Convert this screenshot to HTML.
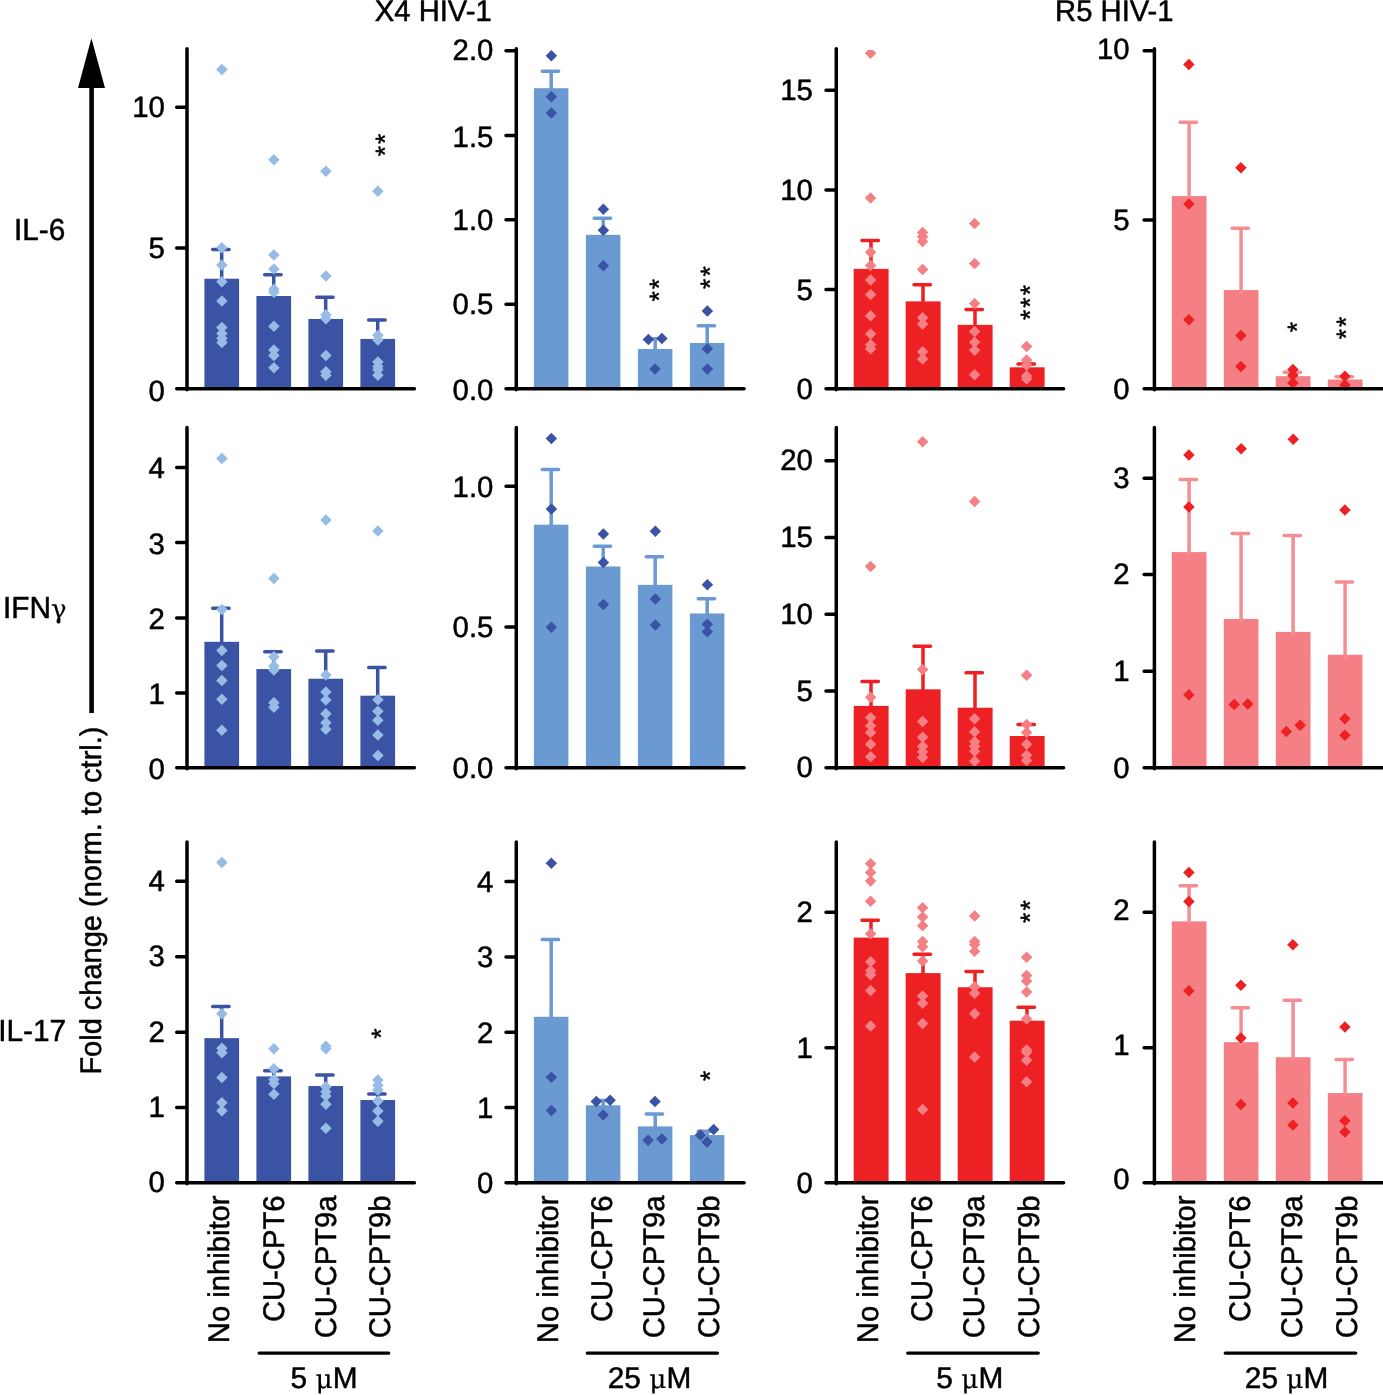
<!DOCTYPE html>
<html lang="en"><head><meta charset="utf-8"><title>Fold change of IL-6, IFN&#947; and IL-17 with TLR8 inhibitors</title>
<style>html,body{margin:0;padding:0;background:#fff}body{width:1383px;height:1395px;overflow:hidden}svg{display:block}text{font-family:"Liberation Sans", sans-serif;font-size:29.8px;fill:#000;stroke:#000;stroke-width:0.5px;stroke-linejoin:round;text-rendering:geometricPrecision}</style></head><body>
<svg width="1383" height="1395" viewBox="0 0 1383 1395" role="img" aria-label="Bar charts of fold change for IL-6, IFN-gamma and IL-17 with X4 and R5 HIV-1">
<rect width="1383" height="1395" fill="#fff"/>
<g>
<rect x="204.4" y="278.729" width="34.7" height="110.141" fill="#3a53a4"/>
<rect x="256.4" y="296.025" width="34.7" height="92.845" fill="#3a53a4"/>
<rect x="308.4" y="318.976" width="34.7" height="69.894" fill="#3a53a4"/>
<rect x="360.4" y="338.932" width="34.7" height="49.938" fill="#3a53a4"/>
<path d="M221.7 280.729V249.46M212.7 249.46H229.1" fill="none" stroke="#3a53a4" stroke-width="3.5" stroke-linecap="round"/>
<path d="M273.7 298.025V274.738M264.7 274.738H281.1" fill="none" stroke="#3a53a4" stroke-width="3.5" stroke-linecap="round"/>
<path d="M325.7 320.976V297.356M316.7 297.356H333.1" fill="none" stroke="#3a53a4" stroke-width="3.5" stroke-linecap="round"/>
<path d="M377.7 340.932V319.973M368.7 319.973H385.1" fill="none" stroke="#3a53a4" stroke-width="3.5" stroke-linecap="round"/>
<path d="M221.9 63.766l5.75 5.75l-5.75 5.75l-5.75 -5.75zM221.9 242.046l5.75 5.75l-5.75 5.75l-5.75 -5.75zM221.9 259.342l5.75 5.75l-5.75 5.75l-5.75 -5.75zM221.9 275.973l5.75 5.75l-5.75 5.75l-5.75 -5.75zM221.9 295.264l5.75 5.75l-5.75 5.75l-5.75 -5.75zM221.9 321.873l5.75 5.75l-5.75 5.75l-5.75 -5.75zM221.9 327.861l5.75 5.75l-5.75 5.75l-5.75 -5.75zM221.9 332.517l5.75 5.75l-5.75 5.75l-5.75 -5.75zM221.9 336.841l5.75 5.75l-5.75 5.75l-5.75 -5.75zM273.9 153.904l5.75 5.75l-5.75 5.75l-5.75 -5.75zM273.9 249.364l5.75 5.75l-5.75 5.75l-5.75 -5.75zM273.9 263.334l5.75 5.75l-5.75 5.75l-5.75 -5.75zM273.9 283.623l5.75 5.75l-5.75 5.75l-5.75 -5.75zM273.9 286.617l5.75 5.75l-5.75 5.75l-5.75 -5.75zM273.9 320.543l5.75 5.75l-5.75 5.75l-5.75 -5.75zM273.9 344.159l5.75 5.75l-5.75 5.75l-5.75 -5.75zM273.9 349.813l5.75 5.75l-5.75 5.75l-5.75 -5.75zM273.9 362.12l5.75 5.75l-5.75 5.75l-5.75 -5.75zM325.9 165.546l5.75 5.75l-5.75 5.75l-5.75 -5.75zM325.9 270.319l5.75 5.75l-5.75 5.75l-5.75 -5.75zM325.9 308.902l5.75 5.75l-5.75 5.75l-5.75 -5.75zM325.9 312.893l5.75 5.75l-5.75 5.75l-5.75 -5.75zM325.9 349.813l5.75 5.75l-5.75 5.75l-5.75 -5.75zM325.9 366.111l5.75 5.75l-5.75 5.75l-5.75 -5.75zM325.9 369.437l5.75 5.75l-5.75 5.75l-5.75 -5.75zM377.9 185.502l5.75 5.75l-5.75 5.75l-5.75 -5.75zM377.9 329.524l5.75 5.75l-5.75 5.75l-5.75 -5.75zM377.9 334.18l5.75 5.75l-5.75 5.75l-5.75 -5.75zM377.9 356.133l5.75 5.75l-5.75 5.75l-5.75 -5.75zM377.9 360.789l5.75 5.75l-5.75 5.75l-5.75 -5.75zM377.9 364.115l5.75 5.75l-5.75 5.75l-5.75 -5.75zM377.9 369.437l5.75 5.75l-5.75 5.75l-5.75 -5.75z" fill="#96bbe5"/>
<path d="M187 48.8V389.87M176.7 388.87H414.4M176.7 247.996H187M176.7 107.301H187" fill="none" stroke="#000" stroke-width="3.5" stroke-linecap="round"/>
<text transform="translate(164.8 401.07) scale(0.995 1)" text-anchor="end" style="font-size:29.5px">0</text>
<text transform="translate(164.8 257.996) scale(0.995 1)" text-anchor="end" style="font-size:29.5px">5</text>
<text transform="translate(164.8 117.301) scale(0.995 1)" text-anchor="end" style="font-size:29.5px">10</text>
<text transform="translate(394.142 143.952) rotate(-90) scale(1 1)" text-anchor="middle" style="font-size:26.5px;letter-spacing:2.1px;stroke-width:0.45px">**</text>
</g>
<g>
<rect x="533.9" y="88.216" width="34.5" height="300.654" fill="#6a9ad1"/>
<rect x="585.9" y="234.841" width="34.5" height="154.029" fill="#6a9ad1"/>
<rect x="637.9" y="348.949" width="34.5" height="39.921" fill="#6a9ad1"/>
<rect x="689.9" y="342.928" width="34.5" height="45.942" fill="#6a9ad1"/>
<path d="M551.2 90.216V71.355M542.2 71.355H558.6" fill="none" stroke="#6a9ad1" stroke-width="3.5" stroke-linecap="round"/>
<path d="M603.2 236.841V218.281M594.2 218.281H610.6" fill="none" stroke="#6a9ad1" stroke-width="3.5" stroke-linecap="round"/>
<path d="M655.2 350.949V338.713M646.2 338.713H662.6" fill="none" stroke="#6a9ad1" stroke-width="3.5" stroke-linecap="round"/>
<path d="M707.2 344.928V325.766M698.2 325.766H714.6" fill="none" stroke="#6a9ad1" stroke-width="3.5" stroke-linecap="round"/>
<path d="M551.35 49.949l5.75 5.75l-5.75 5.75l-5.75 -5.75zM551.35 90.896l5.75 5.75l-5.75 5.75l-5.75 -5.75zM551.35 107.154l5.75 5.75l-5.75 5.75l-5.75 -5.75zM603.35 203.499l5.75 5.75l-5.75 5.75l-5.75 -5.75zM603.35 224.575l5.75 5.75l-5.75 5.75l-5.75 -5.75zM603.35 260.102l5.75 5.75l-5.75 5.75l-5.75 -5.75zM648.346 333.866l5.75 5.75l-5.75 5.75l-5.75 -5.75zM661.894 332.662l5.75 5.75l-5.75 5.75l-5.75 -5.75zM654.97 363.371l5.75 5.75l-5.75 5.75l-5.75 -5.75zM707.35 305.263l5.75 5.75l-5.75 5.75l-5.75 -5.75zM707.35 342.898l5.75 5.75l-5.75 5.75l-5.75 -5.75zM707.35 363.371l5.75 5.75l-5.75 5.75l-5.75 -5.75z" fill="#3a53a4"/>
<path d="M516.3 48.8V389.87M506 388.87H744.1M506 304.289H516.3M506 219.686H516.3M506 135.384H516.3M506 50.781H516.3" fill="none" stroke="#000" stroke-width="3.5" stroke-linecap="round"/>
<text transform="translate(493.4 400.27) scale(0.995 1)" text-anchor="end" style="font-size:29.5px">0.0</text>
<text transform="translate(493.4 314.289) scale(0.995 1)" text-anchor="end" style="font-size:29.5px">0.5</text>
<text transform="translate(493.4 229.886) scale(0.995 1)" text-anchor="end" style="font-size:29.5px">1.0</text>
<text transform="translate(493.4 146.684) scale(0.995 1)" text-anchor="end" style="font-size:29.5px">1.5</text>
<text transform="translate(493.4 59.981) scale(0.995 1)" text-anchor="end" style="font-size:29.5px">2.0</text>
<text transform="translate(668.27 289.14) rotate(-90) scale(1 1)" text-anchor="middle" style="font-size:26.5px;letter-spacing:2.1px;stroke-width:0.45px">**</text>
<text transform="translate(719.453 276.495) rotate(-90) scale(1 1)" text-anchor="middle" style="font-size:26.5px;letter-spacing:2.1px;stroke-width:0.45px">**</text>
</g>
<g>
<rect x="853.7" y="268.863" width="34.9" height="120.007" fill="#ed2024"/>
<rect x="905.7" y="301.379" width="34.9" height="87.491" fill="#ed2024"/>
<rect x="957.7" y="324.863" width="34.9" height="64.007" fill="#ed2024"/>
<rect x="1009.7" y="367.315" width="34.9" height="21.555" fill="#ed2024"/>
<path d="M871 270.863V240.561M862 240.561H878.4" fill="none" stroke="#ed2024" stroke-width="3.5" stroke-linecap="round"/>
<path d="M923 303.379V284.82M914 284.82H930.4" fill="none" stroke="#ed2024" stroke-width="3.5" stroke-linecap="round"/>
<path d="M975 326.863V309.508M966 309.508H982.4" fill="none" stroke="#ed2024" stroke-width="3.5" stroke-linecap="round"/>
<path d="M1027 369.315V364.003M1018 364.003H1034.4" fill="none" stroke="#ed2024" stroke-width="3.5" stroke-linecap="round"/>
<path d="M868.05 50.1H873.15L876.35 53.3L870.6 59.05L864.85 53.3zM870.6 192.359l5.75 5.75l-5.75 5.75l-5.75 -5.75zM870.6 246.553l5.75 5.75l-5.75 5.75l-5.75 -5.75zM870.6 259.801l5.75 5.75l-5.75 5.75l-5.75 -5.75zM870.6 274.252l5.75 5.75l-5.75 5.75l-5.75 -5.75zM870.6 288.704l5.75 5.75l-5.75 5.75l-5.75 -5.75zM870.6 310.081l5.75 5.75l-5.75 5.75l-5.75 -5.75zM870.6 328.145l5.75 5.75l-5.75 5.75l-5.75 -5.75zM870.6 338.984l5.75 5.75l-5.75 5.75l-5.75 -5.75zM870.6 342.898l5.75 5.75l-5.75 5.75l-5.75 -5.75zM922.6 226.682l5.75 5.75l-5.75 5.75l-5.75 -5.75zM922.6 230.897l5.75 5.75l-5.75 5.75l-5.75 -5.75zM922.6 235.714l5.75 5.75l-5.75 5.75l-5.75 -5.75zM922.6 263.715l5.75 5.75l-5.75 5.75l-5.75 -5.75zM922.6 311.887l5.75 5.75l-5.75 5.75l-5.75 -5.75zM922.6 318.21l5.75 5.75l-5.75 5.75l-5.75 -5.75zM922.6 345.909l5.75 5.75l-5.75 5.75l-5.75 -5.75zM922.6 353.135l5.75 5.75l-5.75 5.75l-5.75 -5.75zM974.6 217.65l5.75 5.75l-5.75 5.75l-5.75 -5.75zM974.6 257.693l5.75 5.75l-5.75 5.75l-5.75 -5.75zM974.6 297.736l5.75 5.75l-5.75 5.75l-5.75 -5.75zM974.6 325.737l5.75 5.75l-5.75 5.75l-5.75 -5.75zM974.6 336.576l5.75 5.75l-5.75 5.75l-5.75 -5.75zM974.6 344.404l5.75 5.75l-5.75 5.75l-5.75 -5.75zM974.6 369.092l5.75 5.75l-5.75 5.75l-5.75 -5.75zM1026.6 340.791l5.75 5.75l-5.75 5.75l-5.75 -5.75zM1026.6 354.339l5.75 5.75l-5.75 5.75l-5.75 -5.75zM1026.6 359.457l5.75 5.75l-5.75 5.75l-5.75 -5.75zM1026.6 370.296l5.75 5.75l-5.75 5.75l-5.75 -5.75zM1026.6 373.307l5.75 5.75l-5.75 5.75l-5.75 -5.75z" fill="#f48085"/>
<path d="M836.3 48.8V389.87M826 388.87H1063.6M826 289.536H836.3M826 189.879H836.3M826 90.222H836.3" fill="none" stroke="#000" stroke-width="3.5" stroke-linecap="round"/>
<text transform="translate(812.8 398.97) scale(0.995 1)" text-anchor="end" style="font-size:29.5px">0</text>
<text transform="translate(812.8 299.536) scale(0.995 1)" text-anchor="end" style="font-size:29.5px">5</text>
<text transform="translate(812.8 199.879) scale(0.995 1)" text-anchor="end" style="font-size:29.5px">10</text>
<text transform="translate(812.8 100.222) scale(0.995 1)" text-anchor="end" style="font-size:29.5px">15</text>
<text transform="translate(1038.851 301.484) rotate(-90) scale(1 1)" text-anchor="middle" style="font-size:26.5px;letter-spacing:2.1px;stroke-width:0.45px">***</text>
</g>
<g>
<rect x="1171.8" y="196.067" width="34.7" height="192.803" fill="#f48085"/>
<rect x="1223.8" y="290.034" width="34.7" height="98.836" fill="#f48085"/>
<rect x="1275.8" y="376.171" width="34.7" height="12.699" fill="#f48085"/>
<rect x="1327.8" y="379.484" width="34.7" height="9.386" fill="#f48085"/>
<path d="M1189.1 198.067V122.278M1180.1 122.278H1196.5" fill="none" stroke="#f48e93" stroke-width="3.5" stroke-linecap="round"/>
<path d="M1241.1 292.034V228.293M1232.1 228.293H1248.5" fill="none" stroke="#f48e93" stroke-width="3.5" stroke-linecap="round"/>
<path d="M1293.1 378.171V372.256M1284.1 372.256H1300.5" fill="none" stroke="#f48e93" stroke-width="3.5" stroke-linecap="round"/>
<path d="M1345.1 381.484V376.773M1336.1 376.773H1352.5" fill="none" stroke="#f48e93" stroke-width="3.5" stroke-linecap="round"/>
<path d="M1188.9 58.702l5.75 5.75l-5.75 5.75l-5.75 -5.75zM1188.9 198.147l5.75 5.75l-5.75 5.75l-5.75 -5.75zM1188.9 314.101l5.75 5.75l-5.75 5.75l-5.75 -5.75zM1240.9 162.006l5.75 5.75l-5.75 5.75l-5.75 -5.75zM1240.9 329.762l5.75 5.75l-5.75 5.75l-5.75 -5.75zM1240.9 360.783l5.75 5.75l-5.75 5.75l-5.75 -5.75zM1292.9 363.795l5.75 5.75l-5.75 5.75l-5.75 -5.75zM1292.9 369.517l5.75 5.75l-5.75 5.75l-5.75 -5.75zM1292.9 377.348l5.75 5.75l-5.75 5.75l-5.75 -5.75zM1344.9 370.421l5.75 5.75l-5.75 5.75l-5.75 -5.75zM1344.9 379.155l5.75 5.75l-5.75 5.75l-5.75 -5.75z" fill="#ed2024"/>
<path d="M1154.4 48.8V389.87M1144.1 388.87H1383M1144.1 220.06H1154.4M1144.1 50.798H1154.4" fill="none" stroke="#000" stroke-width="3.5" stroke-linecap="round"/>
<text transform="translate(1129.7 399.27) scale(0.995 1)" text-anchor="end" style="font-size:29.5px">0</text>
<text transform="translate(1129.7 230.06) scale(0.995 1)" text-anchor="end" style="font-size:29.5px">5</text>
<text transform="translate(1129.7 59.098) scale(0.995 1)" text-anchor="end" style="font-size:29.5px">10</text>
<text transform="translate(1306.233 325.98) rotate(-90) scale(1 1)" text-anchor="middle" style="font-size:26.5px;letter-spacing:2.1px;stroke-width:0.45px">*</text>
<text transform="translate(1355.325 326.884) rotate(-90) scale(1 1)" text-anchor="middle" style="font-size:26.5px;letter-spacing:2.1px;stroke-width:0.45px">**</text>
</g>
<g>
<rect x="204.4" y="641.809" width="34.7" height="126.061" fill="#3a53a4"/>
<rect x="256.4" y="669.084" width="34.7" height="98.786" fill="#3a53a4"/>
<rect x="308.4" y="678.729" width="34.7" height="89.141" fill="#3a53a4"/>
<rect x="360.4" y="695.693" width="34.7" height="72.177" fill="#3a53a4"/>
<path d="M221.7 643.809V608.216M212.7 608.216H229.1" fill="none" stroke="#3a53a4" stroke-width="3.5" stroke-linecap="round"/>
<path d="M273.7 671.084V651.788M264.7 651.788H281.1" fill="none" stroke="#3a53a4" stroke-width="3.5" stroke-linecap="round"/>
<path d="M325.7 680.729V651.123M316.7 651.123H333.1" fill="none" stroke="#3a53a4" stroke-width="3.5" stroke-linecap="round"/>
<path d="M377.7 697.693V667.421M368.7 667.421H385.1" fill="none" stroke="#3a53a4" stroke-width="3.5" stroke-linecap="round"/>
<path d="M221.9 452.79l5.75 5.75l-5.75 5.75l-5.75 -5.75zM221.9 603.796l5.75 5.75l-5.75 5.75l-5.75 -5.75zM221.9 644.707l5.75 5.75l-5.75 5.75l-5.75 -5.75zM221.9 659.675l5.75 5.75l-5.75 5.75l-5.75 -5.75zM221.9 674.642l5.75 5.75l-5.75 5.75l-5.75 -5.75zM221.9 693.601l5.75 5.75l-5.75 5.75l-5.75 -5.75zM221.9 724.534l5.75 5.75l-5.75 5.75l-5.75 -5.75zM273.9 572.863l5.75 5.75l-5.75 5.75l-5.75 -5.75zM273.9 651.027l5.75 5.75l-5.75 5.75l-5.75 -5.75zM273.9 660.34l5.75 5.75l-5.75 5.75l-5.75 -5.75zM273.9 664.331l5.75 5.75l-5.75 5.75l-5.75 -5.75zM273.9 696.928l5.75 5.75l-5.75 5.75l-5.75 -5.75zM273.9 701.584l5.75 5.75l-5.75 5.75l-5.75 -5.75zM325.9 514.323l5.75 5.75l-5.75 5.75l-5.75 -5.75zM325.9 669.321l5.75 5.75l-5.75 5.75l-5.75 -5.75zM325.9 686.284l5.75 5.75l-5.75 5.75l-5.75 -5.75zM325.9 694.267l5.75 5.75l-5.75 5.75l-5.75 -5.75zM325.9 707.904l5.75 5.75l-5.75 5.75l-5.75 -5.75zM325.9 716.884l5.75 5.75l-5.75 5.75l-5.75 -5.75zM325.9 723.537l5.75 5.75l-5.75 5.75l-5.75 -5.75zM377.9 525.299l5.75 5.75l-5.75 5.75l-5.75 -5.75zM377.9 693.934l5.75 5.75l-5.75 5.75l-5.75 -5.75zM377.9 705.575l5.75 5.75l-5.75 5.75l-5.75 -5.75zM377.9 714.556l5.75 5.75l-5.75 5.75l-5.75 -5.75zM377.9 729.191l5.75 5.75l-5.75 5.75l-5.75 -5.75zM377.9 749.813l5.75 5.75l-5.75 5.75l-5.75 -5.75z" fill="#96bbe5"/>
<path d="M187 427.6V768.87M176.7 767.87H414.4M176.7 692.899H187M176.7 618.061H187M176.7 542.558H187M176.7 467.388H187" fill="none" stroke="#000" stroke-width="3.5" stroke-linecap="round"/>
<text transform="translate(164.8 779.27) scale(0.995 1)" text-anchor="end" style="font-size:29.5px">0</text>
<text transform="translate(164.8 703.899) scale(0.995 1)" text-anchor="end" style="font-size:29.5px">1</text>
<text transform="translate(164.8 629.061) scale(0.995 1)" text-anchor="end" style="font-size:29.5px">2</text>
<text transform="translate(164.8 553.558) scale(0.995 1)" text-anchor="end" style="font-size:29.5px">3</text>
<text transform="translate(164.8 478.388) scale(0.995 1)" text-anchor="end" style="font-size:29.5px">4</text>
</g>
<g>
<rect x="533.9" y="524.646" width="34.5" height="243.224" fill="#6a9ad1"/>
<rect x="585.9" y="566.496" width="34.5" height="201.374" fill="#6a9ad1"/>
<rect x="637.9" y="584.862" width="34.5" height="183.008" fill="#6a9ad1"/>
<rect x="689.9" y="613.464" width="34.5" height="154.406" fill="#6a9ad1"/>
<path d="M551.2 526.646V469.549M542.2 469.549H558.6" fill="none" stroke="#6a9ad1" stroke-width="3.5" stroke-linecap="round"/>
<path d="M603.2 568.496V546.324M594.2 546.324H610.6" fill="none" stroke="#6a9ad1" stroke-width="3.5" stroke-linecap="round"/>
<path d="M655.2 586.862V556.862M646.2 556.862H662.6" fill="none" stroke="#6a9ad1" stroke-width="3.5" stroke-linecap="round"/>
<path d="M707.2 615.464V598.711M698.2 598.711H714.6" fill="none" stroke="#6a9ad1" stroke-width="3.5" stroke-linecap="round"/>
<path d="M551.35 432.788l5.75 5.75l-5.75 5.75l-5.75 -5.75zM551.35 503.24l5.75 5.75l-5.75 5.75l-5.75 -5.75zM551.35 621.564l5.75 5.75l-5.75 5.75l-5.75 -5.75zM603.35 528.23l5.75 5.75l-5.75 5.75l-5.75 -5.75zM603.35 556.832l5.75 5.75l-5.75 5.75l-5.75 -5.75zM603.35 598.682l5.75 5.75l-5.75 5.75l-5.75 -5.75zM655.35 525.52l5.75 5.75l-5.75 5.75l-5.75 -5.75zM655.35 593.262l5.75 5.75l-5.75 5.75l-5.75 -5.75zM655.35 619.155l5.75 5.75l-5.75 5.75l-5.75 -5.75zM707.35 579.112l5.75 5.75l-5.75 5.75l-5.75 -5.75zM707.35 618.553l5.75 5.75l-5.75 5.75l-5.75 -5.75zM707.35 626.08l5.75 5.75l-5.75 5.75l-5.75 -5.75z" fill="#3a53a4"/>
<path d="M516.3 427.6V768.87M506 767.87H744.1M506 626.912H516.3M506 486.308H516.3" fill="none" stroke="#000" stroke-width="3.5" stroke-linecap="round"/>
<text transform="translate(493.4 778.47) scale(0.995 1)" text-anchor="end" style="font-size:29.5px">0.0</text>
<text transform="translate(493.4 637.312) scale(0.995 1)" text-anchor="end" style="font-size:29.5px">0.5</text>
<text transform="translate(493.4 496.708) scale(0.995 1)" text-anchor="end" style="font-size:29.5px">1.0</text>
</g>
<g>
<rect x="853.7" y="705.895" width="34.9" height="61.975" fill="#ed2024"/>
<rect x="905.7" y="689.336" width="34.9" height="78.534" fill="#ed2024"/>
<rect x="957.7" y="707.702" width="34.9" height="60.168" fill="#ed2024"/>
<rect x="1009.7" y="736.003" width="34.9" height="31.867" fill="#ed2024"/>
<path d="M871 707.895V681.508M862 681.508H878.4" fill="none" stroke="#ed2024" stroke-width="3.5" stroke-linecap="round"/>
<path d="M923 691.336V646.282M914 646.282H930.4" fill="none" stroke="#ed2024" stroke-width="3.5" stroke-linecap="round"/>
<path d="M975 709.702V672.777M966 672.777H982.4" fill="none" stroke="#ed2024" stroke-width="3.5" stroke-linecap="round"/>
<path d="M1027 738.003V724.562M1018 724.562H1034.4" fill="none" stroke="#ed2024" stroke-width="3.5" stroke-linecap="round"/>
<path d="M870.6 560.746l5.75 5.75l-5.75 5.75l-5.75 -5.75zM870.6 691.414l5.75 5.75l-5.75 5.75l-5.75 -5.75zM870.6 711.887l5.75 5.75l-5.75 5.75l-5.75 -5.75zM870.6 720.016l5.75 5.75l-5.75 5.75l-5.75 -5.75zM870.6 726.64l5.75 5.75l-5.75 5.75l-5.75 -5.75zM870.6 738.382l5.75 5.75l-5.75 5.75l-5.75 -5.75zM870.6 751.027l5.75 5.75l-5.75 5.75l-5.75 -5.75zM922.6 436.1l5.75 5.75l-5.75 5.75l-5.75 -5.75zM922.6 663.715l5.75 5.75l-5.75 5.75l-5.75 -5.75zM922.6 715.801l5.75 5.75l-5.75 5.75l-5.75 -5.75zM922.6 731.457l5.75 5.75l-5.75 5.75l-5.75 -5.75zM922.6 740.49l5.75 5.75l-5.75 5.75l-5.75 -5.75zM922.6 745.909l5.75 5.75l-5.75 5.75l-5.75 -5.75zM922.6 751.629l5.75 5.75l-5.75 5.75l-5.75 -5.75zM974.6 495.713l5.75 5.75l-5.75 5.75l-5.75 -5.75zM974.6 713.091l5.75 5.75l-5.75 5.75l-5.75 -5.75zM974.6 726.038l5.75 5.75l-5.75 5.75l-5.75 -5.75zM974.6 735.973l5.75 5.75l-5.75 5.75l-5.75 -5.75zM974.6 740.49l5.75 5.75l-5.75 5.75l-5.75 -5.75zM974.6 745.608l5.75 5.75l-5.75 5.75l-5.75 -5.75zM974.6 755.543l5.75 5.75l-5.75 5.75l-5.75 -5.75zM1026.6 669.435l5.75 5.75l-5.75 5.75l-5.75 -5.75zM1026.6 718.812l5.75 5.75l-5.75 5.75l-5.75 -5.75zM1026.6 726.64l5.75 5.75l-5.75 5.75l-5.75 -5.75zM1026.6 738.382l5.75 5.75l-5.75 5.75l-5.75 -5.75zM1026.6 749.522l5.75 5.75l-5.75 5.75l-5.75 -5.75zM1026.6 754.64l5.75 5.75l-5.75 5.75l-5.75 -5.75z" fill="#f48085"/>
<path d="M836.3 427.6V768.87M826 767.87H1063.6M826 691.041H836.3M826 614.266H836.3M826 537.492H836.3M826 460.717H836.3" fill="none" stroke="#000" stroke-width="3.5" stroke-linecap="round"/>
<text transform="translate(812.8 777.37) scale(0.995 1)" text-anchor="end" style="font-size:29.5px">0</text>
<text transform="translate(812.8 700.641) scale(0.995 1)" text-anchor="end" style="font-size:29.5px">5</text>
<text transform="translate(812.8 623.866) scale(0.995 1)" text-anchor="end" style="font-size:29.5px">10</text>
<text transform="translate(812.8 547.092) scale(0.995 1)" text-anchor="end" style="font-size:29.5px">15</text>
<text transform="translate(812.8 470.317) scale(0.995 1)" text-anchor="end" style="font-size:29.5px">20</text>
</g>
<g>
<rect x="1171.8" y="552.095" width="34.7" height="215.775" fill="#f48085"/>
<rect x="1223.8" y="618.956" width="34.7" height="148.914" fill="#f48085"/>
<rect x="1275.8" y="631.907" width="34.7" height="135.963" fill="#f48085"/>
<rect x="1327.8" y="654.796" width="34.7" height="113.074" fill="#f48085"/>
<path d="M1189.1 554.095V479.511M1180.1 479.511H1196.5" fill="none" stroke="#f48e93" stroke-width="3.5" stroke-linecap="round"/>
<path d="M1241.1 620.956V533.422M1232.1 533.422H1248.5" fill="none" stroke="#f48e93" stroke-width="3.5" stroke-linecap="round"/>
<path d="M1293.1 633.907V535.53M1284.1 535.53H1300.5" fill="none" stroke="#f48e93" stroke-width="3.5" stroke-linecap="round"/>
<path d="M1345.1 656.796V581.911M1336.1 581.911H1352.5" fill="none" stroke="#f48e93" stroke-width="3.5" stroke-linecap="round"/>
<path d="M1188.9 449.366l5.75 5.75l-5.75 5.75l-5.75 -5.75zM1188.9 501.168l5.75 5.75l-5.75 5.75l-5.75 -5.75zM1188.9 689.103l5.75 5.75l-5.75 5.75l-5.75 -5.75zM1241.13 443.041l5.75 5.75l-5.75 5.75l-5.75 -5.75zM1234.203 698.741l5.75 5.75l-5.75 5.75l-5.75 -5.75zM1247.756 698.138l5.75 5.75l-5.75 5.75l-5.75 -5.75zM1293.234 433.403l5.75 5.75l-5.75 5.75l-5.75 -5.75zM1286.307 725.847l5.75 5.75l-5.75 5.75l-5.75 -5.75zM1300.161 719.522l5.75 5.75l-5.75 5.75l-5.75 -5.75zM1344.9 504.18l5.75 5.75l-5.75 5.75l-5.75 -5.75zM1344.9 712.896l5.75 5.75l-5.75 5.75l-5.75 -5.75zM1344.9 729.461l5.75 5.75l-5.75 5.75l-5.75 -5.75z" fill="#ed2024"/>
<path d="M1154.4 427.6V768.87M1144.1 767.87H1383M1144.1 671.26H1154.4M1144.1 574.582H1154.4M1144.1 478.205H1154.4" fill="none" stroke="#000" stroke-width="3.5" stroke-linecap="round"/>
<text transform="translate(1129.7 777.57) scale(0.995 1)" text-anchor="end" style="font-size:29.5px">0</text>
<text transform="translate(1129.7 680.86) scale(0.995 1)" text-anchor="end" style="font-size:29.5px">1</text>
<text transform="translate(1129.7 584.182) scale(0.995 1)" text-anchor="end" style="font-size:29.5px">2</text>
<text transform="translate(1129.7 487.805) scale(0.995 1)" text-anchor="end" style="font-size:29.5px">3</text>
</g>
<g>
<rect x="204.4" y="1038.151" width="34.7" height="144.599" fill="#3a53a4"/>
<rect x="256.4" y="1076.401" width="34.7" height="106.349" fill="#3a53a4"/>
<rect x="308.4" y="1086.047" width="34.7" height="96.703" fill="#3a53a4"/>
<rect x="360.4" y="1100.017" width="34.7" height="82.733" fill="#3a53a4"/>
<path d="M221.7 1040.151V1006.552M212.7 1006.552H229.1" fill="none" stroke="#3a53a4" stroke-width="3.5" stroke-linecap="round"/>
<path d="M273.7 1078.401V1070.747M264.7 1070.747H281.1" fill="none" stroke="#3a53a4" stroke-width="3.5" stroke-linecap="round"/>
<path d="M325.7 1088.047V1075.071M316.7 1075.071H333.1" fill="none" stroke="#3a53a4" stroke-width="3.5" stroke-linecap="round"/>
<path d="M377.7 1102.017V1094.03M368.7 1094.03H385.1" fill="none" stroke="#3a53a4" stroke-width="3.5" stroke-linecap="round"/>
<path d="M221.9 856.781l5.75 5.75l-5.75 5.75l-5.75 -5.75zM221.9 1008.12l5.75 5.75l-5.75 5.75l-5.75 -5.75zM221.9 1042.379l5.75 5.75l-5.75 5.75l-5.75 -5.75zM221.9 1047.036l5.75 5.75l-5.75 5.75l-5.75 -5.75zM221.9 1071.649l5.75 5.75l-5.75 5.75l-5.75 -5.75zM221.9 1096.928l5.75 5.75l-5.75 5.75l-5.75 -5.75zM221.9 1104.91l5.75 5.75l-5.75 5.75l-5.75 -5.75zM273.9 1043.044l5.75 5.75l-5.75 5.75l-5.75 -5.75zM273.9 1063.001l5.75 5.75l-5.75 5.75l-5.75 -5.75zM273.9 1073.645l5.75 5.75l-5.75 5.75l-5.75 -5.75zM273.9 1077.636l5.75 5.75l-5.75 5.75l-5.75 -5.75zM273.9 1088.612l5.75 5.75l-5.75 5.75l-5.75 -5.75zM325.9 1040.383l5.75 5.75l-5.75 5.75l-5.75 -5.75zM325.9 1043.044l5.75 5.75l-5.75 5.75l-5.75 -5.75zM325.9 1080.962l5.75 5.75l-5.75 5.75l-5.75 -5.75zM325.9 1085.951l5.75 5.75l-5.75 5.75l-5.75 -5.75zM325.9 1090.275l5.75 5.75l-5.75 5.75l-5.75 -5.75zM325.9 1098.591l5.75 5.75l-5.75 5.75l-5.75 -5.75zM325.9 1122.539l5.75 5.75l-5.75 5.75l-5.75 -5.75zM377.9 1074.31l5.75 5.75l-5.75 5.75l-5.75 -5.75zM377.9 1079.632l5.75 5.75l-5.75 5.75l-5.75 -5.75zM377.9 1084.288l5.75 5.75l-5.75 5.75l-5.75 -5.75zM377.9 1095.264l5.75 5.75l-5.75 5.75l-5.75 -5.75zM377.9 1105.243l5.75 5.75l-5.75 5.75l-5.75 -5.75zM377.9 1115.554l5.75 5.75l-5.75 5.75l-5.75 -5.75z" fill="#96bbe5"/>
<path d="M187 841.9V1183.75M176.7 1182.75H414.4M176.7 1107.534H187M176.7 1032.364H187M176.7 956.861H187M176.7 881.357H187" fill="none" stroke="#000" stroke-width="3.5" stroke-linecap="round"/>
<text transform="translate(164.8 1192.05) scale(0.995 1)" text-anchor="end" style="font-size:29.5px">0</text>
<text transform="translate(164.8 1116.984) scale(0.995 1)" text-anchor="end" style="font-size:29.5px">1</text>
<text transform="translate(164.8 1041.814) scale(0.995 1)" text-anchor="end" style="font-size:29.5px">2</text>
<text transform="translate(164.8 966.311) scale(0.995 1)" text-anchor="end" style="font-size:29.5px">3</text>
<text transform="translate(164.8 890.807) scale(0.995 1)" text-anchor="end" style="font-size:29.5px">4</text>
<text transform="translate(389.818 1032.427) rotate(-90) scale(1 1)" text-anchor="middle" style="font-size:26.5px;letter-spacing:2.1px;stroke-width:0.45px">*</text>
</g>
<g>
<rect x="533.9" y="1016.776" width="34.5" height="165.974" fill="#6a9ad1"/>
<rect x="585.9" y="1105.293" width="34.5" height="77.457" fill="#6a9ad1"/>
<rect x="637.9" y="1126.368" width="34.5" height="56.382" fill="#6a9ad1"/>
<rect x="689.9" y="1135.1" width="34.5" height="47.65" fill="#6a9ad1"/>
<path d="M551.2 1018.776V939.399M542.2 939.399H558.6" fill="none" stroke="#6a9ad1" stroke-width="3.5" stroke-linecap="round"/>
<path d="M603.2 1107.293V1100.476M594.2 1100.476H610.6" fill="none" stroke="#6a9ad1" stroke-width="3.5" stroke-linecap="round"/>
<path d="M655.2 1128.368V1114.024M646.2 1114.024H662.6" fill="none" stroke="#6a9ad1" stroke-width="3.5" stroke-linecap="round"/>
<path d="M707.2 1137.1V1131.186M698.2 1131.186H714.6" fill="none" stroke="#6a9ad1" stroke-width="3.5" stroke-linecap="round"/>
<path d="M551.35 857.476l5.75 5.75l-5.75 5.75l-5.75 -5.75zM551.35 1071.543l5.75 5.75l-5.75 5.75l-5.75 -5.75zM551.35 1104.661l5.75 5.75l-5.75 5.75l-5.75 -5.75zM596.259 1095.629l5.75 5.75l-5.75 5.75l-5.75 -5.75zM610.109 1094.425l5.75 5.75l-5.75 5.75l-5.75 -5.75zM603.184 1109.177l5.75 5.75l-5.75 5.75l-5.75 -5.75zM654.97 1095.629l5.75 5.75l-5.75 5.75l-5.75 -5.75zM648.045 1134.468l5.75 5.75l-5.75 5.75l-5.75 -5.75zM661.894 1133.264l5.75 5.75l-5.75 5.75l-5.75 -5.75zM713.68 1123.629l5.75 5.75l-5.75 5.75l-5.75 -5.75zM700.432 1129.35l5.75 5.75l-5.75 5.75l-5.75 -5.75zM707.056 1136.274l5.75 5.75l-5.75 5.75l-5.75 -5.75z" fill="#3a53a4"/>
<path d="M516.3 841.9V1183.75M506 1182.75H744.1M506 1107.6H516.3M506 1032.331H516.3M506 957.062H516.3M506 881.491H516.3" fill="none" stroke="#000" stroke-width="3.5" stroke-linecap="round"/>
<text transform="translate(493.4 1193.35) scale(0.995 1)" text-anchor="end" style="font-size:29.5px">0</text>
<text transform="translate(493.4 1118) scale(0.995 1)" text-anchor="end" style="font-size:29.5px">1</text>
<text transform="translate(493.4 1042.731) scale(0.995 1)" text-anchor="end" style="font-size:29.5px">2</text>
<text transform="translate(493.4 967.462) scale(0.995 1)" text-anchor="end" style="font-size:29.5px">3</text>
<text transform="translate(493.4 891.891) scale(0.995 1)" text-anchor="end" style="font-size:29.5px">4</text>
<text transform="translate(719.453 1074.688) rotate(-90) scale(1 1)" text-anchor="middle" style="font-size:26.5px;letter-spacing:2.1px;stroke-width:0.45px">*</text>
</g>
<g>
<rect x="853.7" y="937.593" width="34.9" height="245.157" fill="#ed2024"/>
<rect x="905.7" y="973.12" width="34.9" height="209.63" fill="#ed2024"/>
<rect x="957.7" y="987.27" width="34.9" height="195.48" fill="#ed2024"/>
<rect x="1009.7" y="1020.69" width="34.9" height="162.06" fill="#ed2024"/>
<path d="M871 939.593V920.13M862 920.13H878.4" fill="none" stroke="#ed2024" stroke-width="3.5" stroke-linecap="round"/>
<path d="M923 975.12V954.152M914 954.152H930.4" fill="none" stroke="#ed2024" stroke-width="3.5" stroke-linecap="round"/>
<path d="M975 989.27V971.614M966 971.614H982.4" fill="none" stroke="#ed2024" stroke-width="3.5" stroke-linecap="round"/>
<path d="M1027 1022.69V1007.142M1018 1007.142H1034.4" fill="none" stroke="#ed2024" stroke-width="3.5" stroke-linecap="round"/>
<path d="M870.6 858.079l5.75 5.75l-5.75 5.75l-5.75 -5.75zM870.6 866.81l5.75 5.75l-5.75 5.75l-5.75 -5.75zM870.6 875.24l5.75 5.75l-5.75 5.75l-5.75 -5.75zM870.6 895.412l5.75 5.75l-5.75 5.75l-5.75 -5.75zM870.6 927.929l5.75 5.75l-5.75 5.75l-5.75 -5.75zM870.6 955.929l5.75 5.75l-5.75 5.75l-5.75 -5.75zM870.6 964.961l5.75 5.75l-5.75 5.75l-5.75 -5.75zM870.6 968.875l5.75 5.75l-5.75 5.75l-5.75 -5.75zM870.6 984.832l5.75 5.75l-5.75 5.75l-5.75 -5.75zM870.6 1020.359l5.75 5.75l-5.75 5.75l-5.75 -5.75zM922.6 902.036l5.75 5.75l-5.75 5.75l-5.75 -5.75zM922.6 911.369l5.75 5.75l-5.75 5.75l-5.75 -5.75zM922.6 920.101l5.75 5.75l-5.75 5.75l-5.75 -5.75zM922.6 935.757l5.75 5.75l-5.75 5.75l-5.75 -5.75zM922.6 940.875l5.75 5.75l-5.75 5.75l-5.75 -5.75zM922.6 955.327l5.75 5.75l-5.75 5.75l-5.75 -5.75zM922.6 990.252l5.75 5.75l-5.75 5.75l-5.75 -5.75zM922.6 997.478l5.75 5.75l-5.75 5.75l-5.75 -5.75zM922.6 1017.65l5.75 5.75l-5.75 5.75l-5.75 -5.75zM922.6 1103.758l5.75 5.75l-5.75 5.75l-5.75 -5.75zM974.6 910.165l5.75 5.75l-5.75 5.75l-5.75 -5.75zM974.6 935.757l5.75 5.75l-5.75 5.75l-5.75 -5.75zM974.6 938.767l5.75 5.75l-5.75 5.75l-5.75 -5.75zM974.6 945.391l5.75 5.75l-5.75 5.75l-5.75 -5.75zM974.6 980.918l5.75 5.75l-5.75 5.75l-5.75 -5.75zM974.6 987.542l5.75 5.75l-5.75 5.75l-5.75 -5.75zM974.6 1008.015l5.75 5.75l-5.75 5.75l-5.75 -5.75zM974.6 1051.37l5.75 5.75l-5.75 5.75l-5.75 -5.75zM1026.6 951.413l5.75 5.75l-5.75 5.75l-5.75 -5.75zM1026.6 969.778l5.75 5.75l-5.75 5.75l-5.75 -5.75zM1026.6 975.198l5.75 5.75l-5.75 5.75l-5.75 -5.75zM1026.6 986.338l5.75 5.75l-5.75 5.75l-5.75 -5.75zM1026.6 1013.134l5.75 5.75l-5.75 5.75l-5.75 -5.75zM1026.6 1044.145l5.75 5.75l-5.75 5.75l-5.75 -5.75zM1026.6 1046.553l5.75 5.75l-5.75 5.75l-5.75 -5.75zM1026.6 1054.381l5.75 5.75l-5.75 5.75l-5.75 -5.75zM1026.6 1076.059l5.75 5.75l-5.75 5.75l-5.75 -5.75z" fill="#f48085"/>
<path d="M836.3 841.9V1183.75M826 1182.75H1063.6M826 1047.686H836.3M826 912.201H836.3" fill="none" stroke="#000" stroke-width="3.5" stroke-linecap="round"/>
<text transform="translate(812.8 1192.85) scale(0.995 1)" text-anchor="end" style="font-size:29.5px">0</text>
<text transform="translate(812.8 1057.686) scale(0.995 1)" text-anchor="end" style="font-size:29.5px">1</text>
<text transform="translate(812.8 922.201) scale(0.995 1)" text-anchor="end" style="font-size:29.5px">2</text>
<text transform="translate(1039.453 910.601) rotate(-90) scale(1 1)" text-anchor="middle" style="font-size:26.5px;letter-spacing:2.1px;stroke-width:0.45px">**</text>
</g>
<g>
<rect x="1171.8" y="921.375" width="34.7" height="261.375" fill="#f48085"/>
<rect x="1223.8" y="1042.147" width="34.7" height="140.603" fill="#f48085"/>
<rect x="1275.8" y="1057.206" width="34.7" height="125.544" fill="#f48085"/>
<rect x="1327.8" y="1093.046" width="34.7" height="89.704" fill="#f48085"/>
<path d="M1189.1 923.375V885.836M1180.1 885.836H1196.5" fill="none" stroke="#f48e93" stroke-width="3.5" stroke-linecap="round"/>
<path d="M1241.1 1044.147V1007.813M1232.1 1007.813H1248.5" fill="none" stroke="#f48e93" stroke-width="3.5" stroke-linecap="round"/>
<path d="M1293.1 1059.206V1000.283M1284.1 1000.283H1300.5" fill="none" stroke="#f48e93" stroke-width="3.5" stroke-linecap="round"/>
<path d="M1345.1 1095.046V1059.615M1336.1 1059.615H1352.5" fill="none" stroke="#f48e93" stroke-width="3.5" stroke-linecap="round"/>
<path d="M1188.9 866.834l5.75 5.75l-5.75 5.75l-5.75 -5.75zM1188.9 895.747l5.75 5.75l-5.75 5.75l-5.75 -5.75zM1188.9 984.895l5.75 5.75l-5.75 5.75l-5.75 -5.75zM1240.9 979.474l5.75 5.75l-5.75 5.75l-5.75 -5.75zM1240.9 1032.18l5.75 5.75l-5.75 5.75l-5.75 -5.75zM1240.9 1098.741l5.75 5.75l-5.75 5.75l-5.75 -5.75zM1292.9 939.116l5.75 5.75l-5.75 5.75l-5.75 -5.75zM1292.9 1097.235l5.75 5.75l-5.75 5.75l-5.75 -5.75zM1292.9 1119.221l5.75 5.75l-5.75 5.75l-5.75 -5.75zM1344.9 1021.338l5.75 5.75l-5.75 5.75l-5.75 -5.75zM1344.9 1115.004l5.75 5.75l-5.75 5.75l-5.75 -5.75zM1344.9 1126.148l5.75 5.75l-5.75 5.75l-5.75 -5.75z" fill="#ed2024"/>
<path d="M1154.4 841.9V1183.75M1144.1 1182.75H1383M1144.1 1047.768H1154.4M1144.1 912.238H1154.4" fill="none" stroke="#000" stroke-width="3.5" stroke-linecap="round"/>
<text transform="translate(1129.7 1189.45) scale(0.995 1)" text-anchor="end" style="font-size:29.5px">0</text>
<text transform="translate(1129.7 1055.468) scale(0.995 1)" text-anchor="end" style="font-size:29.5px">1</text>
<text transform="translate(1129.7 920.038) scale(0.995 1)" text-anchor="end" style="font-size:29.5px">2</text>
</g>
<text transform="translate(229.4 1195.5) rotate(-90) scale(0.98 1)" text-anchor="end">No inhibitor</text>
<text transform="translate(283.6 1195.5) rotate(-90) scale(0.98 1)" text-anchor="end">CU-CPT6</text>
<text transform="translate(335.6 1195.5) rotate(-90) scale(0.98 1)" text-anchor="end">CU-CPT9a</text>
<text transform="translate(390.2 1195.5) rotate(-90) scale(0.98 1)" text-anchor="end">CU-CPT9b</text>
<text transform="translate(558 1195.5) rotate(-90) scale(0.98 1)" text-anchor="end">No inhibitor</text>
<text transform="translate(611.8 1195.5) rotate(-90) scale(0.98 1)" text-anchor="end">CU-CPT6</text>
<text transform="translate(664 1195.5) rotate(-90) scale(0.98 1)" text-anchor="end">CU-CPT9a</text>
<text transform="translate(718.9 1195.5) rotate(-90) scale(0.98 1)" text-anchor="end">CU-CPT9b</text>
<text transform="translate(878 1195.5) rotate(-90) scale(0.98 1)" text-anchor="end">No inhibitor</text>
<text transform="translate(932 1195.5) rotate(-90) scale(0.98 1)" text-anchor="end">CU-CPT6</text>
<text transform="translate(984 1195.5) rotate(-90) scale(0.98 1)" text-anchor="end">CU-CPT9a</text>
<text transform="translate(1038.9 1195.5) rotate(-90) scale(0.98 1)" text-anchor="end">CU-CPT9b</text>
<text transform="translate(1195.2 1195.5) rotate(-90) scale(0.98 1)" text-anchor="end">No inhibitor</text>
<text transform="translate(1249.6 1195.5) rotate(-90) scale(0.98 1)" text-anchor="end">CU-CPT6</text>
<text transform="translate(1301.6 1195.5) rotate(-90) scale(0.98 1)" text-anchor="end">CU-CPT9a</text>
<text transform="translate(1356.8 1195.5) rotate(-90) scale(0.98 1)" text-anchor="end">CU-CPT9b</text>
<path d="M259.2 1353.1H388.7" stroke="#000" stroke-width="3.4" stroke-linecap="round" fill="none"/>
<text transform="translate(324 1387.8) scale(1 1)" text-anchor="middle">5 <tspan style="font-family:'DejaVu Serif','Liberation Serif',serif;font-size:26.5px;stroke-width:0.15px">&#956;</tspan>M</text>
<path d="M587.3 1353.1H717.4" stroke="#000" stroke-width="3.4" stroke-linecap="round" fill="none"/>
<text transform="translate(649.5 1387.8) scale(1 1)" text-anchor="middle">25 <tspan style="font-family:'DejaVu Serif','Liberation Serif',serif;font-size:26.5px;stroke-width:0.15px">&#956;</tspan>M</text>
<path d="M907.8 1353.1H1038.2" stroke="#000" stroke-width="3.4" stroke-linecap="round" fill="none"/>
<text transform="translate(969.8 1387.8) scale(1 1)" text-anchor="middle">5 <tspan style="font-family:'DejaVu Serif','Liberation Serif',serif;font-size:26.5px;stroke-width:0.15px">&#956;</tspan>M</text>
<path d="M1225.3 1353.1H1355.7" stroke="#000" stroke-width="3.4" stroke-linecap="round" fill="none"/>
<text transform="translate(1286.6 1387.8) scale(1 1)" text-anchor="middle">25 <tspan style="font-family:'DejaVu Serif','Liberation Serif',serif;font-size:26.5px;stroke-width:0.15px">&#956;</tspan>M</text>
<text transform="translate(374.8 21) scale(0.98 1)">X4 HIV-1</text>
<text transform="translate(1055.1 21) scale(0.98 1)">R5 HIV-1</text>
<text transform="translate(13.9 240) scale(0.98 1)" style="font-size:30.4px">IL-6</text>
<text transform="translate(3 618) scale(0.98 1)" style="font-size:30.4px">IFN<tspan style="font-family:'DejaVu Serif','Liberation Serif',serif;font-size:26.5px;stroke-width:0.15px">&#947;</tspan></text>
<text transform="translate(-1.8 1041) scale(0.98 1)" style="font-size:30.4px">IL-17</text>
<path d="M91.6 86V713" stroke="#000" stroke-width="4.6" fill="none"/>
<path d="M91.4 38.3L105 88H78 z" fill="#000"/>
<text transform="translate(101.3 1074.6) rotate(-90) scale(0.973 1)">Fold change (norm. to ctrl.)</text>
</svg></body></html>
